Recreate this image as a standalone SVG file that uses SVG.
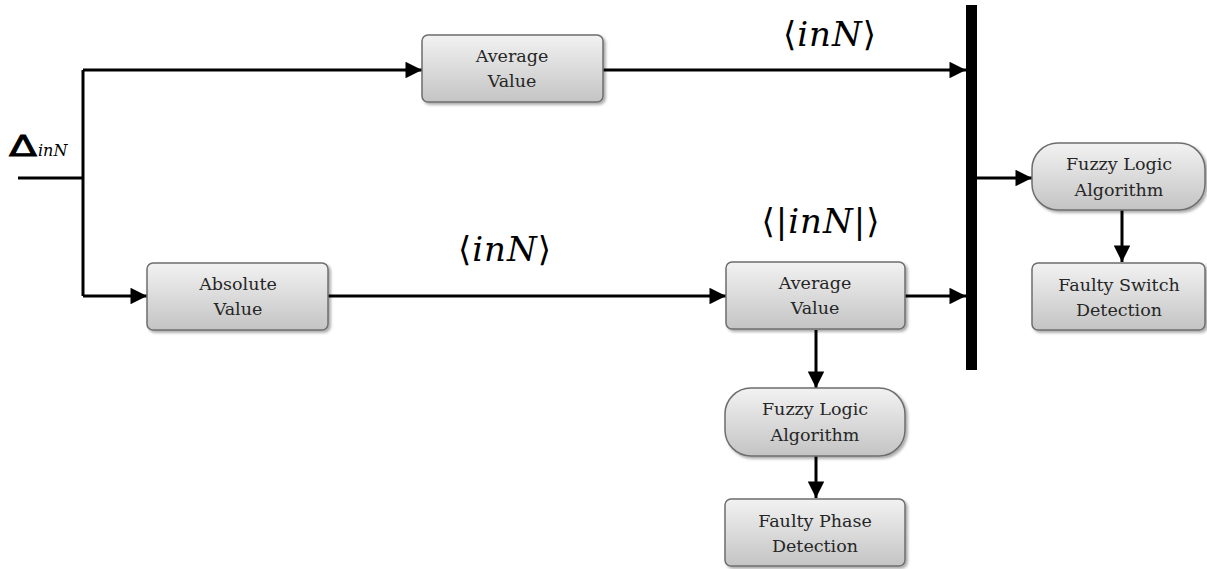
<svg xmlns="http://www.w3.org/2000/svg" width="1207" height="569" viewBox="0 0 1207 569">
  <style>
    .box { fill: url(#boxGrad); stroke: #6e6e6e; stroke-width: 1.5; filter: url(#shadow); }
    .lbl { font-family: "DejaVu Serif", serif; font-size: 17.5px; fill: #262626; text-anchor: middle; }
    .math { font-family: "DejaVu Serif", serif; font-size: 34px; fill: #000; text-anchor: middle; letter-spacing: 1px; }
    .wire { fill: none; stroke: #000; stroke-width: 3; }
    .arr { marker-end: url(#head); }
  </style>
  <defs>
    <linearGradient id="boxGrad" x1="0" y1="0" x2="0" y2="1">
      <stop offset="0" stop-color="#f2f2f2"/>
      <stop offset="1" stop-color="#c4c4c4"/>
    </linearGradient>
    <filter id="shadow" x="-10%" y="-10%" width="125%" height="130%">
      <feGaussianBlur in="SourceAlpha" stdDeviation="1.5"/>
      <feOffset dx="1.5" dy="2" result="b"/>
      <feComponentTransfer><feFuncA type="linear" slope="0.35"/></feComponentTransfer>
      <feMerge><feMergeNode/><feMergeNode in="SourceGraphic"/></feMerge>
    </filter>
    <marker id="head" viewBox="0 0 10 10" refX="10" refY="5" markerWidth="6" markerHeight="5.5" markerUnits="strokeWidth" orient="auto">
      <path d="M0,0 L10,5 L0,10 Z" fill="#000"/>
    </marker>
  </defs>

  <!-- connectors -->
  <g id="connectors">
    <path class="wire" d="M18,178 H83"/>
    <path class="wire" d="M83,70 V296"/>
    <path class="wire arr" d="M83,70 H422"/>
    <path class="wire arr" d="M603,70 H966"/>
    <path class="wire arr" d="M83,296 H147"/>
    <path class="wire arr" d="M328,296 H726"/>
    <path class="wire arr" d="M905,296 H966"/>
    <path class="wire arr" d="M977,178 H1032"/>
    <path class="wire arr" d="M1122,210 V262"/>
    <path class="wire arr" d="M816,330 V388"/>
    <path class="wire arr" d="M816,456 V498"/>
    <!-- merge bar -->
    <rect x="966" y="5" width="11" height="365" fill="#000"/>
  </g>

  <!-- signal labels -->
  <g id="labels">
    <text x="9" y="156" font-family="DejaVu Sans, sans-serif" font-size="29" fill="#000" stroke="#000" stroke-width="0.8" textLength="28" lengthAdjust="spacingAndGlyphs">Δ</text>
    <text x="38" y="156" font-family="DejaVu Serif, serif" font-style="italic" font-size="16" fill="#000">inN</text>
    <text class="math" x="830" y="46"><tspan>⟨</tspan><tspan font-style="italic">inN</tspan><tspan>⟩</tspan></text>
    <text class="math" x="821" y="233"><tspan>⟨|</tspan><tspan font-style="italic">inN</tspan><tspan>|⟩</tspan></text>
    <text class="math" x="505" y="261"><tspan>⟨</tspan><tspan font-style="italic">inN</tspan><tspan>⟩</tspan></text>
  </g>

  <g id="avg-top">
    <rect class="box" x="422" y="35" width="181" height="67" rx="6"/>
    <text class="lbl" x="512" y="62">Average</text>
    <text class="lbl" x="512" y="87">Value</text>
  </g>

  <g id="abs-value">
    <rect class="box" x="147" y="263" width="181" height="67" rx="6"/>
    <text class="lbl" x="238" y="290">Absolute</text>
    <text class="lbl" x="238" y="315">Value</text>
  </g>

  <g id="avg-bottom">
    <rect class="box" x="726" y="262" width="179" height="67" rx="6"/>
    <text class="lbl" x="815" y="289">Average</text>
    <text class="lbl" x="815" y="314">Value</text>
  </g>

  <g id="fuzzy-phase">
    <rect class="box" x="725" y="388" width="180" height="68" rx="26"/>
    <text class="lbl" x="815" y="415">Fuzzy Logic</text>
    <text class="lbl" x="815" y="441">Algorithm</text>
  </g>

  <g id="faulty-phase">
    <rect class="box" x="725" y="499" width="180" height="67" rx="6"/>
    <text class="lbl" x="815" y="527">Faulty Phase</text>
    <text class="lbl" x="815" y="552">Detection</text>
  </g>

  <g id="fuzzy-switch">
    <rect class="box" x="1032" y="143" width="173" height="67" rx="26"/>
    <text class="lbl" x="1119" y="170">Fuzzy Logic</text>
    <text class="lbl" x="1119" y="196">Algorithm</text>
  </g>

  <g id="faulty-switch">
    <rect class="box" x="1032" y="263" width="173" height="67" rx="6"/>
    <text class="lbl" x="1119" y="291">Faulty Switch</text>
    <text class="lbl" x="1119" y="316">Detection</text>
  </g>
</svg>
